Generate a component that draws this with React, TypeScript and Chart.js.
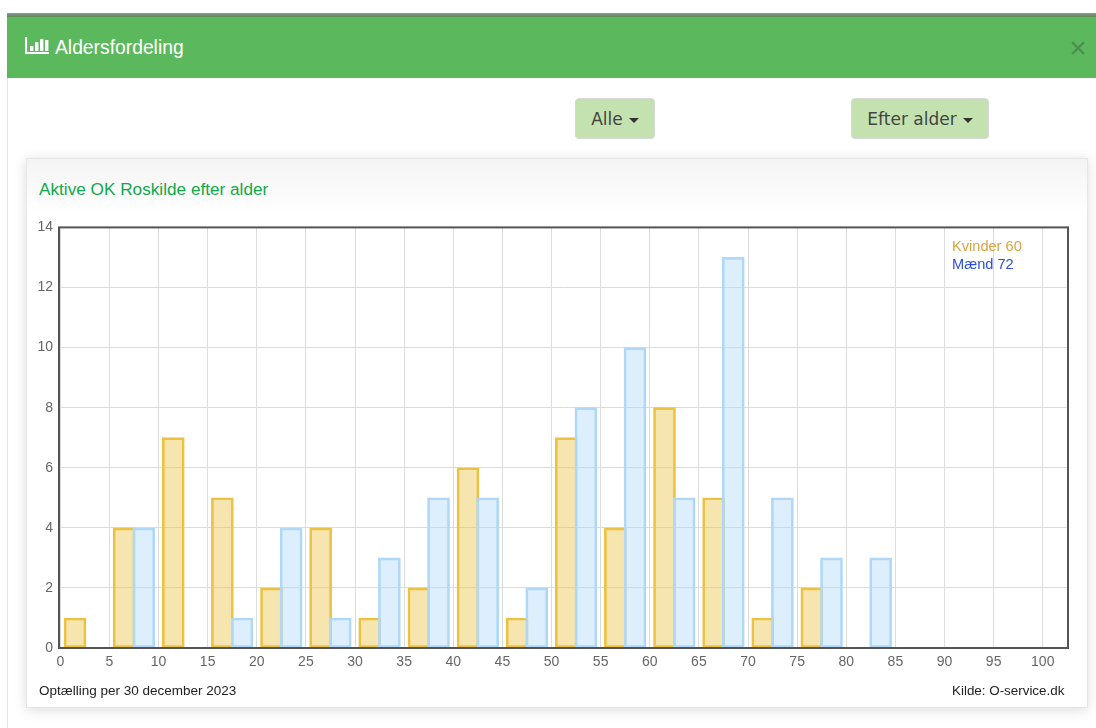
import React, { useEffect, useRef } from "react";
import { Chart, registerables } from "chart.js";

Chart.register(...registerables);

const womenAges = [1.5, 6.5, 11.5, 16.5, 21.5, 26.5, 31.5, 36.5, 41.5, 46.5, 51.5, 56.5, 61.5, 66.5, 71.5, 76.5];
const womenCounts = [1, 4, 7, 5, 2, 4, 1, 2, 6, 1, 7, 4, 8, 5, 1, 2];
const menAges = [8.5, 18.5, 23.5, 28.5, 33.5, 38.5, 43.5, 48.5, 53.5, 58.5, 63.5, 68.5, 73.5, 78.5, 83.5];
const menCounts = [4, 1, 4, 1, 3, 5, 5, 2, 8, 10, 5, 13, 5, 3, 3];

const SANS = "'Liberation Sans', Arial, sans-serif";
const DEJAVU = "'DejaVu Sans', Verdana, sans-serif";

const framePlugin = {
  id: "frame",
  afterDraw(chart: any) {
    const { ctx, chartArea: a } = chart;
    ctx.save();
    ctx.strokeStyle = "#545454";
    ctx.lineWidth = 2;
    ctx.strokeRect(a.left, a.top, a.right - a.left, a.bottom - a.top);
    ctx.restore();
  },
};

function Btn({ left, width, label }: { left: number; width: number; label: string }) {
  return (
    <div
      style={{
        position: "absolute", left, top: 98, width, height: 41, boxSizing: "border-box",
        background: "#c3e2b0", border: "1px solid #d8d8d8", borderRadius: 4, color: "#444",
        font: `17px ${DEJAVU}`, lineHeight: "41px", textAlign: "center", whiteSpace: "nowrap",
      }}
    >
      {label}
      <span
        style={{
          display: "inline-block", width: 0, height: 0, marginLeft: 6, verticalAlign: "middle",
          borderTop: "5px solid #333", borderLeft: "5px solid transparent", borderRight: "5px solid transparent",
        }}
      />
    </div>
  );
}

export default function App() {
  const ref = useRef<HTMLCanvasElement>(null);
  useEffect(() => {
    const chart = new Chart(ref.current!, {
      type: "bar",
      data: {
        datasets: [
          {
            label: "Kvinder",
            data: womenAges.map((x, i) => ({ x, y: womenCounts[i] })),
            backgroundColor: "rgba(237,194,64,0.42)",
            borderColor: "#edc240",
            borderWidth: 2,
            borderSkipped: false,
            barThickness: 22,
            grouped: false,
            order: 2,
          },
          {
            label: "Mænd",
            data: menAges.map((x, i) => ({ x, y: menCounts[i] })),
            backgroundColor: "rgba(175,216,248,0.42)",
            borderColor: "#afd8f8",
            borderWidth: 2,
            borderSkipped: false,
            barThickness: 22,
            grouped: false,
            order: 1,
          },
        ],
      },
      options: {
        responsive: false,
        animation: false,
        layout: { padding: { left: 0, right: 20, top: 10, bottom: 0 } },
        plugins: { legend: { display: false }, title: { display: false }, tooltip: { enabled: false } },
        scales: {
          x: {
            type: "linear",
            min: -0.13,
            max: 102.57,
            offset: false,
            grid: { color: "#dcdcdc", lineWidth: 1, drawTicks: false, offset: false },
            border: { display: false },
            ticks: {
              stepSize: 5,
              includeBounds: false,
              autoSkip: false,
              maxRotation: 0,
              padding: 6,
              color: "#666",
              font: { family: SANS, size: 14 },
            },
            afterFit(s: any) { s.height = 37; },
          },
          y: {
            min: 0,
            max: 14,
            grid: { color: "#dcdcdc", lineWidth: 1, drawTicks: false },
            border: { display: false },
            ticks: { stepSize: 2, padding: 6, color: "#666", font: { family: SANS, size: 14 } },
            afterFit(s: any) { s.width = 33; },
          },
        },
      },
      plugins: [framePlugin],
    } as any);
    return () => chart.destroy();
  }, []);

  return (
    <div style={{ position: "absolute", left: 0, top: 0, width: 1096, height: 728, overflow: "hidden", background: "#fff", fontFamily: SANS }}>
      <div style={{ position: "absolute", left: 7, top: 78, width: 1, height: 650, background: "#e4e4e4" }} />
      <div style={{ position: "absolute", left: 7, top: 13, width: 1089, height: 4, background: "linear-gradient(#8a9aa8,#5f8a4a)" }} />
      <div style={{ position: "absolute", left: 7, top: 17, width: 1089, height: 61, background: "#5cb85c" }} />
      <svg style={{ position: "absolute", left: 25, top: 36 }} width="24" height="19" viewBox="0 0 24 19">
        <path d="M1 1V17H24" stroke="#fff" strokeWidth="2.2" fill="none" />
        <rect x="5" y="10" width="3.4" height="5" fill="#fff" />
        <rect x="10" y="6" width="3.4" height="9" fill="#fff" />
        <rect x="15" y="3" width="3.4" height="12" fill="#fff" />
        <rect x="20" y="4" width="3.4" height="11" fill="#fff" />
      </svg>
      <div style={{ position: "absolute", left: 55, top: 37, color: "#fff", font: `19.3px ${SANS}`, lineHeight: "21px" }}>Aldersfordeling</div>
      <div style={{ position: "absolute", left: 1066, top: 33, width: 24, color: "#4a8f4f", font: `30px ${SANS}`, lineHeight: "30px", textAlign: "center" }}>×</div>

      <Btn left={575} width={80} label="Alle" />
      <Btn left={851} width={138} label="Efter alder" />

      <div
        style={{
          position: "absolute", left: 26, top: 158, width: 1062, height: 550, boxSizing: "border-box",
          border: "1px solid #e6e6e6", background: "linear-gradient(#f4f4f4 0, #fff 55px)",
          boxShadow: "0 2px 12px rgba(0,0,0,0.14)",
        }}
      />
      <div style={{ position: "absolute", left: 39, top: 179, color: "#11a84a", font: `17.2px ${SANS}`, lineHeight: "20px" }}>Aktive OK Roskilde efter alder</div>
      <canvas ref={ref} width={1062} height={472} style={{ position: "absolute", left: 26, top: 213, width: 1062, height: 472 }} />
      <div style={{ position: "absolute", left: 952, top: 237, color: "#d9a441", font: `14.6px ${SANS}`, lineHeight: "18px" }}>Kvinder 60</div>
      <div style={{ position: "absolute", left: 952, top: 255, color: "#2b50d8", font: `14.6px ${SANS}`, lineHeight: "18px" }}>Mænd 72</div>
      <div style={{ position: "absolute", left: 39, top: 683, color: "#222", font: `13.5px ${SANS}`, lineHeight: "16px" }}>Optælling per 30 december 2023</div>
      <div style={{ position: "absolute", left: 952, top: 683, color: "#222", font: `13.4px ${SANS}`, lineHeight: "16px" }}>Kilde: O-service.dk</div>
    </div>
  );
}
